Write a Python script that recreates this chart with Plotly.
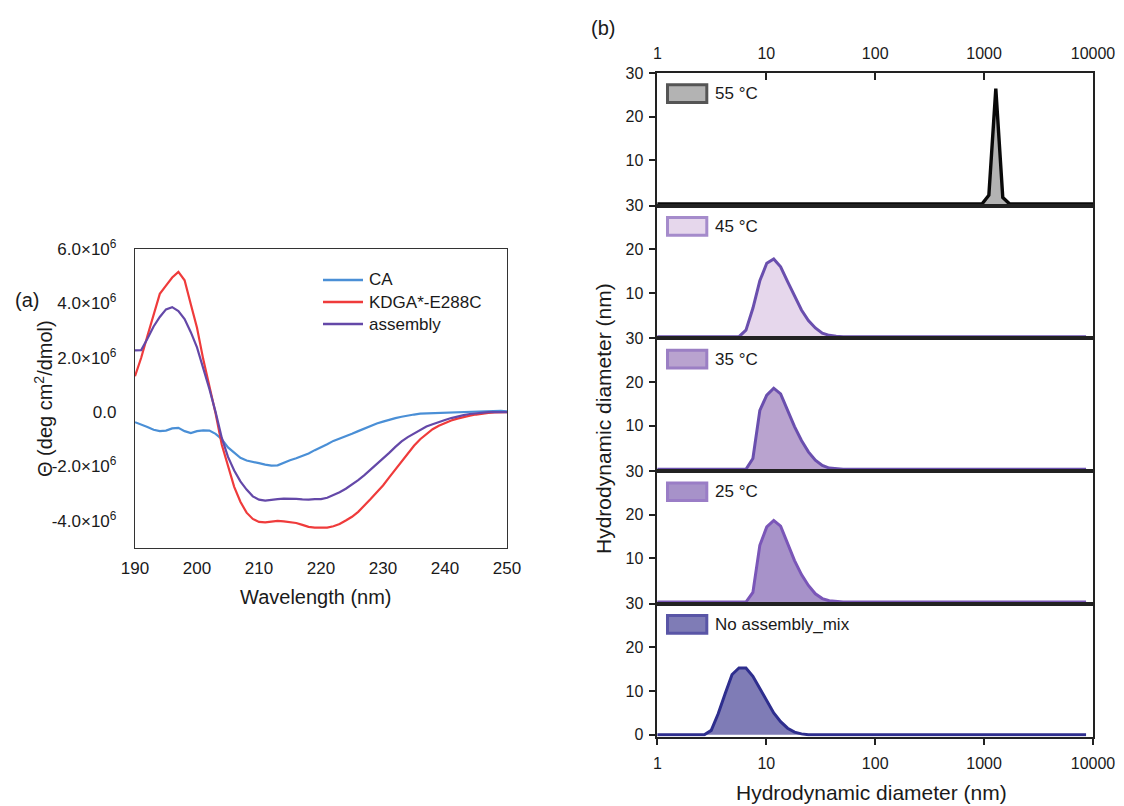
import plotly.graph_objects as go

# ---------------- (a) circular dichroism spectra ----------------
wavelength_nm = list(range(190, 251))

# mean residue ellipticity, in units of 10^6 deg cm^2/dmol
ca_theta = [-0.37, -0.45, -0.55, -0.65, -0.70, -0.68, -0.60, -0.58, -0.70, -0.77,
            -0.70, -0.67, -0.68, -0.80, -1.00, -1.30, -1.50, -1.68, -1.78, -1.84,
            -1.88, -1.93, -1.97, -1.96, -1.86, -1.77, -1.70, -1.62, -1.52, -1.40,
            -1.30, -1.18, -1.06, -0.98, -0.90, -0.80, -0.70, -0.60, -0.50, -0.42,
            -0.35, -0.28, -0.22, -0.17, -0.12, -0.09, -0.06, -0.05, -0.04, -0.04,
            -0.03, -0.02, -0.01, 0.00, 0.01, 0.02, 0.04, 0.05, 0.05, 0.05,
            0.03]
kdga_theta = [1.32, 2.00, 2.80, 3.60, 4.35, 4.65, 4.95, 5.16, 4.85, 3.97,
              3.10, 1.95, 0.95, -0.05, -1.20, -2.00, -2.75, -3.30, -3.70, -3.93,
              -4.04, -4.06, -4.02, -4.00, -4.02, -4.05, -4.08, -4.15, -4.22, -4.25,
              -4.26, -4.25, -4.20, -4.12, -3.99, -3.85, -3.67, -3.45, -3.20, -2.95,
              -2.70, -2.40, -2.10, -1.80, -1.50, -1.24, -1.00, -0.80, -0.63, -0.50,
              -0.40, -0.31, -0.24, -0.18, -0.13, -0.09, -0.05, -0.03, -0.01, 0.00,
              0.00]
assembly_theta = [2.27, 2.28, 2.70, 3.15, 3.50, 3.78, 3.86, 3.72, 3.42, 2.94,
                  2.38, 1.65, 0.85, 0.00, -0.95, -1.65, -2.15, -2.55, -2.85, -3.10,
                  -3.22, -3.26, -3.22, -3.20, -3.18, -3.18, -3.19, -3.21, -3.22, -3.20,
                  -3.20, -3.15, -3.06, -2.95, -2.82, -2.67, -2.50, -2.32, -2.12, -1.92,
                  -1.73, -1.50, -1.28, -1.08, -0.92, -0.78, -0.65, -0.53, -0.45, -0.36,
                  -0.29, -0.22, -0.16, -0.11, -0.07, -0.04, -0.02, 0.00, 0.00, 0.00,
                  0.00]
cd_names = ["CA", "KDGA*-E288C", "assembly"]
cd_colors = ["#4a8fd6", "#ef3b3b", "#6448a8"]
cd_series = [ca_theta, kdga_theta, assembly_theta]

theta_tickvals = [-4e6, -2e6, 0, 2e6, 4e6, 6e6]
theta_ticktext = ["-4.0×10<sup>6</sup>", "-2.0×10<sup>6</sup>", "0.0",
                  "2.0×10<sup>6</sup>", "4.0×10<sup>6</sup>", "6.0×10<sup>6</sup>"]

# ---------------- (b) DLS size distributions ----------------
size_55 = [0.9649, 955.4, 1106, 1281, 1484, 1718, 10000]
int_55 = [0, 0, 2.0, 26.4, 1.5, 0, 0]

size_45 = [0.9649, 5.615, 6.503, 7.531, 8.721, 10.10, 11.70, 13.54, 15.69, 18.17,
           21.04, 24.36, 28.21, 32.67, 37.84, 43.82, 50.75, 8635]
int_45 = [0, 0, 1.5, 6.5, 12.8, 16.8, 17.8, 16.0, 12.6, 9.3,
          6.1, 3.7, 2.0, 0.8, 0.3, 0.1, 0, 0]

size_35 = [0.9649, 6.503, 7.531, 8.721, 10.10, 11.70, 13.54, 15.69, 18.17, 21.04,
           24.36, 28.21, 32.67, 37.84, 43.82, 50.75, 8635]
int_35 = [0, 0, 2.5, 13.5, 17.0, 18.6, 17.3, 13.5, 9.8, 6.6,
          4.0, 2.1, 0.9, 0.3, 0.1, 0, 0]

size_25 = [0.9649, 6.503, 7.531, 8.721, 10.10, 11.70, 13.54, 15.69, 18.17, 21.04,
           24.36, 28.21, 32.67, 37.84, 43.82, 50.75, 8635]
int_25 = [0, 0, 2.2, 13.0, 17.2, 18.7, 17.4, 13.3, 9.5, 6.3,
          3.8, 1.9, 0.8, 0.3, 0.1, 0, 0]

size_mix = [0.9649, 2.696, 3.122, 3.615, 4.187, 4.849, 5.615, 6.503, 7.531, 8.721,
            10.10, 11.70, 13.54, 15.69, 18.17, 21.04, 24.36, 8635]
int_mix = [0, 0, 1.0, 4.8, 9.4, 13.8, 15.3, 15.3, 13.4, 10.6,
           7.9, 5.0, 3.0, 1.5, 0.6, 0.2, 0, 0]

dls_labels = ["55 °C", "45 °C", "35 °C", "25 °C", "No assembly_mix"]
dls_sizes = [size_55, size_45, size_35, size_25, size_mix]
dls_values = [int_55, int_45, int_35, int_25, int_mix]
dls_line = ["#0a0a0a", "#6a4fae", "#6a4fae", "#7a56b8", "#2e2e8e"]
dls_fill = ["#b3b3b3", "#e6d7ec", "#b9a3cf", "#a792c9", "#7f7cb6"]
dls_key_border = ["#555555", "#a58bcb", "#9b7fc4", "#9a7dc6", "#5955a6"]

size_ticks = [1, 10, 100, 1000, 10000]
dls_size_ticktext = ["1", "10", "100", "1000", "10000"]

# ---------------- figure geometry (pixels on a 1124 x 806 page) ----------------
W, H = 1124, 806
FONT = "Liberation Sans, Arial, sans-serif"
TXT = "#1a1a1a"


def fx(px):
    return px / W


def fy(py):
    return 1 - py / H


fig = go.Figure()

for name, color, vals in zip(cd_names, cd_colors, cd_series):
    fig.add_trace(go.Scatter(
        x=wavelength_nm, y=[v * 1e6 for v in vals], mode="lines", name=name,
        line=dict(color=color, width=2.2), xaxis="x", yaxis="y", showlegend=False,
    ))

b_left, b_right = 657.4, 1093.0
panel_tops = [73.0, 205.7, 338.4, 471.1, 603.8]
panel_h = 132.7

for k in range(5):
    ax = str(k + 2)
    fig.add_trace(go.Scatter(
        x=dls_sizes[k], y=dls_values[k], mode="lines", name=dls_labels[k],
        fill="tozeroy", fillcolor=dls_fill[k],
        line=dict(color=dls_line[k], width=3.4 if k == 0 else 3.0),
        xaxis="x" + ax, yaxis="y" + ax, showlegend=False,
    ))

layout = dict(
    width=W, height=H,
    margin=dict(l=0, r=0, t=0, b=0, pad=0, autoexpand=False),
    paper_bgcolor="white", plot_bgcolor="white",
    font=dict(family=FONT, size=16, color=TXT),
    showlegend=False,
    xaxis=dict(domain=[fx(135), fx(507)], range=[190, 250], dtick=10,
               showline=True, linecolor="#333", linewidth=1.3, mirror=True,
               ticks="", showgrid=False, zeroline=False, anchor="y",
               automargin=False, ticklabelstandoff=4, tickfont=dict(size=17)),
    yaxis=dict(domain=[fy(548), fy(249)], range=[-5e6, 6e6],
               tickvals=theta_tickvals, ticktext=theta_ticktext,
               showline=True, linecolor="#333", linewidth=1.3, mirror=True,
               ticks="", showgrid=False, zeroline=False, anchor="x",
               automargin=False, ticklabelstandoff=14, tickfont=dict(size=17)),
)

for k in range(5):
    ax = str(k + 2)
    top = panel_tops[k]
    bottom = top + panel_h
    xa = dict(domain=[fx(b_left), fx(b_right)], type="log", range=[0, 4],
              showline=True, linecolor="#222", linewidth=1.6, mirror=True,
              showgrid=False, zeroline=False, anchor="y" + ax, automargin=False,
              tickvals=size_ticks, ticktext=dls_size_ticktext,
              tickcolor="#222", tickwidth=1.5)
    if k == 0:
        xa.update(side="top", ticks="inside", ticklen=7, showticklabels=True,
                  ticklabelstandoff=6)
    elif k == 4:
        xa.update(side="bottom", ticks="outside", ticklen=7, showticklabels=True,
                  ticklabelstandoff=4)
    else:
        xa.update(ticks="", showticklabels=False)
    if k > 0:
        xa["matches"] = "x2"
    ya = dict(domain=[fy(bottom), fy(top)], range=[-0.4, 30],
              tickvals=[10, 20, 30] if k < 4 else [0, 10, 20, 30],
              ticks="outside", ticklen=7, tickcolor="#222", tickwidth=1.5,
              showline=True, linecolor="#222", linewidth=1.6, mirror=True,
              showgrid=False, zeroline=False, anchor="x" + ax, automargin=False,
              ticklabelstandoff=2)
    layout["xaxis" + ax] = xa
    layout["yaxis" + ax] = ya

fig.update_layout(**layout)

shapes = []
annotations = []

# key for the CD spectra: a line sample and the series name per row
cd_key_rows = [280, 302, 324]
for name, color, row in zip(cd_names, cd_colors, cd_key_rows):
    shapes.append(dict(
        type="line", xref="paper", yref="paper",
        x0=fx(323), x1=fx(363), y0=fy(row), y1=fy(row),
        line=dict(color=color, width=2.4),
    ))
    annotations.append(dict(
        xref="paper", yref="paper", x=fx(367), y=fy(row), text=name,
        xanchor="left", yanchor="middle", showarrow=False,
        font=dict(size=17, color=TXT),
    ))

# key boxes and labels for each DLS panel
for k in range(5):
    ax = str(k + 2)
    shapes.append(dict(
        type="rect", xref="x" + ax + " domain", yref="y" + ax + " domain",
        x0=(667.5 - b_left) / (b_right - b_left), x1=(706.8 - b_left) / (b_right - b_left),
        y0=1 - 29.5 / panel_h, y1=1 - 11.8 / panel_h,
        fillcolor=dls_fill[k], line=dict(color=dls_key_border[k], width=3),
    ))
    annotations.append(dict(
        xref="x" + ax + " domain", yref="y" + ax + " domain",
        x=(712.5 - b_left) / (b_right - b_left), y=1 - 20.7 / panel_h,
        xanchor="left", yanchor="middle", text=dls_labels[k], showarrow=False,
        font=dict(size=17, color=TXT),
    ))

# axis titles and panel letters
annotations += [
    dict(xref="paper", yref="paper", x=fx(316), y=fy(597), text="Wavelength (nm)",
         showarrow=False, xanchor="center", yanchor="middle",
         font=dict(size=20, color=TXT)),
    dict(xref="paper", yref="paper", x=fx(44), y=fy(399),
         text="Θ (deg cm<sup>2</sup>/dmol)", textangle=-90,
         showarrow=False, xanchor="center", yanchor="middle",
         font=dict(size=20, color=TXT)),
    dict(xref="paper", yref="paper", x=fx(872), y=fy(792),
         text="Hydrodynamic diameter (nm)", showarrow=False,
         xanchor="center", yanchor="middle", font=dict(size=21, color=TXT)),
    dict(xref="paper", yref="paper", x=fx(603), y=fy(419),
         text="Hydrodynamic diameter (nm)", textangle=-90, showarrow=False,
         xanchor="center", yanchor="middle", font=dict(size=21, color=TXT)),
    dict(xref="paper", yref="paper", x=fx(27), y=fy(300), text="(a)",
         showarrow=False, xanchor="center", yanchor="middle",
         font=dict(size=20, color=TXT)),
    dict(xref="paper", yref="paper", x=fx(603), y=fy(28), text="(b)",
         showarrow=False, xanchor="center", yanchor="middle",
         font=dict(size=20, color=TXT)),
]

fig.update_layout(shapes=shapes, annotations=annotations)

fig.write_html("out.html")
